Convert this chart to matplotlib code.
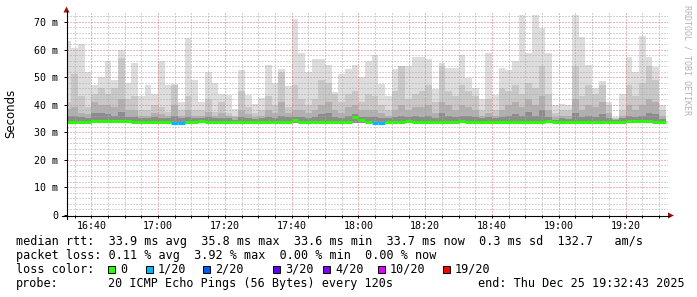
import numpy as np
import matplotlib
matplotlib.use("Agg")
import matplotlib.pyplot as plt
from matplotlib.lines import Line2D
from matplotlib.patches import Rectangle, Polygon

# smokeping style latency graph, 3 hours, one bin every 120s (minutes after 16:00)
bin_start = 32 + 2 * np.arange(90)

# top of the smoke (max ping), in ms
smoke_max = [63, 60.5, 62, 52, 47, 50, 56, 49, 60, 48,
             55, 43, 47, 44, 56, 47, 47.5, 41, 64, 49,
             41, 52, 48, 44, 43.5, 38.5, 52.5, 43.5, 40.3, 42.4,
             54.4, 47.9, 53, 46.8, 71.1, 58.9, 52, 56.5, 56.5, 54.4,
             44.7, 51.1, 53, 54.4, 49.9, 55.9, 58, 47.5, 43.2, 53,
             49.9, 54, 57.4, 57.4, 56.7, 45.6, 55.2, 53.3, 53.3, 58,
             49.8, 45.9, 42.1, 58.9, 43.5, 53.2, 52.6, 55.9, 72.5, 58.9,
             72.5, 67.7, 58.9, 39.9, 40.3, 39.9, 72.5, 64.7, 54.4, 45.9,
             48.6, 41.1, 35.7, 43.9, 57.4, 52, 65, 57.4, 53.8, 39.8]
# inner smoke bands (darker towards the median)
smoke_hi = [41, 51, 43, 39, 44, 46, 44, 46, 57, 42,
            43, 38, 38, 40, 39, 37.5, 47, 38, 43, 38,
            38, 42, 37.5, 41, 37, 36, 45, 39, 37, 38,
            43, 40, 52, 39, 47, 42, 40, 42, 49, 48,
            44, 41, 44, 45, 41, 44, 43, 40, 38, 45,
            54, 42, 44, 45, 47, 41, 54, 45, 43, 47,
            45, 43, 38, 42, 38, 46, 45, 47, 44, 48,
            46, 54, 44, 37, 38, 38, 54, 43, 47, 44,
            47, 40, 35, 38, 47, 43, 48, 54, 49, 38]
smoke_mid = [38.5, 39, 37, 36.5, 41, 40, 40, 39, 42, 38,
             38, 36, 36, 37, 36.5, 36, 40, 36, 38, 36,
             36, 37.5, 36, 37, 36, 35.5, 38, 36.5, 35.5, 36,
             38, 37, 41, 37, 38, 38, 37, 38, 40, 41,
             38, 37, 39, 40, 38, 38, 38, 37, 36, 38,
             40, 38, 39, 39, 40, 37, 41, 40, 38, 40,
             39, 38, 36, 37, 36, 38, 40, 41, 39, 42,
             40, 43, 38, 35.5, 36, 36, 42, 38, 40, 39,
             41, 37, 34.8, 36, 40, 38, 40, 42, 41, 36]
smoke_dark = [36, 36, 35.5, 35, 37, 37, 36.5, 36, 37.5, 35.5,
              35.5, 35, 35, 35.5, 35, 35, 36, 35, 35.5, 35,
              35, 35.5, 35, 35, 35, 34.5, 35.5, 35, 34.8, 35,
              35.5, 35, 36, 35.5, 35.5, 35.5, 35, 35.5, 36.5, 37,
              35.5, 35, 36, 36.5, 35.5, 35.5, 35.5, 35, 35, 35.5,
              36, 35.5, 36, 35.5, 36, 35, 37, 36, 35.5, 36,
              36, 35.5, 35, 35.5, 35, 35.5, 36, 36.5, 36, 37.5,
              36, 38, 35.5, 34.6, 35, 34.8, 37, 35.5, 36, 35.5,
              36.5, 35, 34.5, 35, 36, 35.5, 36, 37, 36.5, 34.8]
median = [33.8, 33.6, 33.6, 33.6, 34.0, 34.2, 34.2, 33.9, 33.9, 33.9,
          33.6, 33.8, 33.6, 33.6, 33.6, 33.6, 33.4, 33.4, 33.7, 33.6,
          34.1, 33.7, 33.7, 33.8, 33.6, 33.6, 33.8, 33.6, 33.7, 33.6,
          33.6, 33.8, 33.7, 33.6, 34.4, 33.8, 33.8, 33.6, 33.6, 33.8,
          33.6, 33.7, 33.8, 35.6, 34.6, 33.8, 33.4, 33.4, 33.6, 33.6,
          33.6, 34.1, 33.7, 33.6, 33.8, 33.6, 33.6, 33.7, 33.8, 34.1,
          33.6, 33.7, 33.8, 33.7, 33.7, 33.6, 33.7, 33.6, 33.6, 33.7,
          33.8, 33.7, 33.9, 33.6, 33.7, 33.6, 33.8, 33.7, 33.6, 33.7,
          33.6, 33.8, 33.7, 33.8, 34.1, 34.1, 34.2, 33.9, 33.8, 33.6]
# lost pings out of 20 per bin
loss = [0] * 90
loss[16] = loss[17] = 1
loss[46] = loss[47] = 1

loss_labels = ["0", "1/20", "2/20", "3/20", "4/20", "10/20", "19/20"]
loss_colors = ["#26ff00", "#00b8ff", "#0059ff", "#5e00ff", "#7e00ff", "#dd00ff", "#ff0000"]
x_labels = ["16:40", "17:00", "17:20", "17:40", "18:00", "18:20", "18:40", "19:00", "19:20"]
y_labels = ["0", "10 m", "20 m", "30 m", "40 m", "50 m", "60 m", "70 m"]

plt.rcParams["font.family"] = "DejaVu Sans Mono"

W, H = 697, 297
fig = plt.figure(figsize=(W / 100, H / 100), dpi=100)
fig.patch.set_facecolor("white")

def fx(x):
    return x / W

def fy(y):
    return 1 - y / H

ax = fig.add_axes([fx(67), fy(215), 601 / W, 203 / H])
ax.set_facecolor("white")

edges = np.append(bin_start, bin_start[-1] + 2)
base = 33.3
for vals, col in [(smoke_max, "#dddddd"), (smoke_hi, "#c8c8c8"),
                  (smoke_mid, "#b0b0b0"), (smoke_dark, "#8c8c8c")]:
    ax.stairs(vals, edges, baseline=base, fill=True, color=col, lw=0, zorder=1)

line_cols = [loss_colors[l] for l in loss]
ax.hlines(median, edges[:-1], edges[1:], colors=line_cols, lw=2.2, zorder=4)

ax.set_xlim(32 + 43 / 60, 212 + 43 / 60)
ax.set_ylim(0, 73.6)

major_x = [40 + 20 * i for i in range(len(x_labels))]
minor_x = [m for m in range(35, 213, 5) if m not in major_x]
ax.set_xticks(major_x)
ax.set_xticklabels(x_labels)
ax.set_xticks(minor_x, minor=True)
ax.set_yticks([10 * i for i in range(len(y_labels))])
ax.set_yticklabels(y_labels)
ax.set_yticks([v for v in range(2, 73, 2) if v % 10], minor=True)

ax.set_axisbelow(False)
ax.grid(which="major", color="#e07070", ls=(0, (1, 2)), lw=0.72)
ax.grid(which="minor", color="#a8a8a8", ls=(0, (1, 2)), lw=0.72)

for s in ax.spines.values():
    s.set_visible(False)
ax.tick_params(axis="y", which="major", length=2, width=0.7, pad=4.5, labelsize=7.2)
ax.tick_params(axis="y", which="minor", length=0)
ax.tick_params(axis="x", which="both", length=2, width=0.7, pad=2.5, labelsize=7.2)

# axis lines with arrow heads
fig.add_artist(Line2D([fx(66.5), fx(66.5)], [fy(219), fy(11)], color="black", lw=0.8))
fig.add_artist(Line2D([fx(62), fx(669)], [fy(215.5), fy(215.5)], color="black", lw=0.8))
fig.add_artist(Polygon([(fx(63.5), fy(12.5)), (fx(69.5), fy(12.5)), (fx(66.5), fy(6.5))],
                       closed=True, color="#a01010", lw=0))
fig.add_artist(Polygon([(fx(668), fy(212.5)), (fx(668), fy(218.5)), (fx(674), fy(215.5))],
                       closed=True, color="#a01010", lw=0))

fig.text(fx(11), fy(113), "Seconds", rotation=90, ha="center", va="center",
         family="DejaVu Sans", size=8.5)
fig.text(fx(687.5), fy(60), "RRDTOOL / TOBI OETIKER", rotation=270, ha="center",
         va="center", size=6, color="#b4b4b4")

fs = 8.5
fig.text(fx(16), fy(241), "median rtt:  33.9 ms avg  35.8 ms max  33.6 ms min  "
         "33.7 ms now  0.3 ms sd  132.7   am/s", size=fs, va="center")
fig.text(fx(16), fy(255.5), "packet loss: 0.11 % avg  3.92 % max  0.00 % min  0.00 % now",
         size=fs, va="center")
fig.text(fx(16), fy(269.3), "loss color:", size=fs, va="center")
box_x = [108, 146, 203, 273, 323, 378, 443]
for bx, lab, col in zip(box_x, loss_labels, loss_colors):
    fig.add_artist(Rectangle((fx(bx), fy(272.5)), 7 / W, 7 / H, facecolor=col,
                             edgecolor="black", lw=0.7))
    fig.text(fx(bx + 12), fy(269.3), lab, size=fs, va="center")
fig.text(fx(16), fy(283.7), "probe:", size=fs, va="center")
fig.text(fx(108), fy(283.7), "20 ICMP Echo Pings (56 Bytes) every 120s", size=fs, va="center")
fig.text(fx(478), fy(283.7), "end: Thu Dec 25 19:32:43 2025", size=fs, va="center")

fig.savefig("out.png", dpi=100)
